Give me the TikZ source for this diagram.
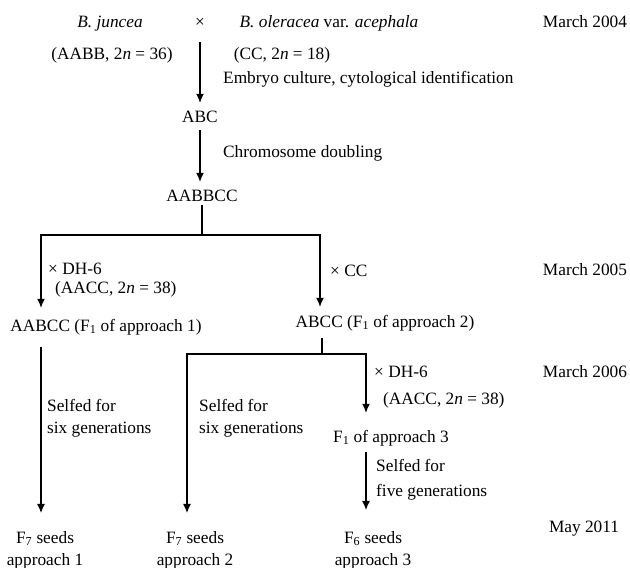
\documentclass[tikz,border=0pt]{standalone}
\usepackage{fontspec}
\setmainfont{Liberation Serif}
\usetikzlibrary{arrows.meta}

\begin{document}
\begin{tikzpicture}[x=1pt,y=-1pt,font=\fontsize{17.3}{22}\selectfont,
	lbl/.style={inner sep=0pt, text height=12pt, text depth=4pt},
	note/.style={lbl, anchor=west},
	block/.style={inner sep=0pt, align=#1},
	ln/.style={line width=1.2pt},
	arr/.style={ln, -{Latex[length=9pt,width=8pt]}}]
\useasboundingbox (0,0) rectangle (630,568);
% the cross
\node[lbl] (juncea) at (110,23) {\textit{B. juncea}};
\node[lbl] (cross) at (200,23) {×};
\node[lbl] (oleracea) at (329,23) {\textit{B. oleracea} var. \textit{acephala}};
\node[lbl] (juncgen) at (112,55) {(AABB, 2\textit{n} = 36)};
\node[lbl] (olegen) at (282,55) {(CC, 2\textit{n} = 18)};
\node[note] (embryo) at (223,79) {Embryo culture, cytological identification};
\node[lbl] (abc) at (200,118) {ABC};
\node[note] (doubling) at (223,153) {Chromosome doubling};
\node[lbl] (aabbcc) at (202,197) {AABBCC};
% first crosses
\node[note] (dhA) at (48,270) {× DH-6};
\node[note] (aaccA) at (55,289) {(AACC, 2\textit{n} = 38)};
\node[lbl] (aabcc) at (106,327) {AABCC (F\textsubscript{1} of approach 1)};
\node[note] (xcc) at (330,272) {× CC};
\node[lbl] (abcc) at (385,323) {ABCC (F\textsubscript{1} of approach 2)};
\node[note] (dhB) at (374,373) {× DH-6};
\node[note] (aaccB) at (383,400) {(AACC, 2\textit{n} = 38)};
\node[lbl] (fonec) at (391,438) {F\textsubscript{1} of approach 3};
% selfing
\node[block=left, anchor=west] (selfA) at (47,418) {Selfed for\\six generations};
\node[block=left, anchor=west] (selfB) at (199,418) {Selfed for\\six generations};
\node[block=left, anchor=west] (selfC) at (376,480) {Selfed for\\[3pt]five generations};
\node[block=center] (seedsA) at (45,550) {F\textsubscript{7} seeds\\approach 1};
\node[block=center] (seedsB) at (195,550) {F\textsubscript{7} seeds\\approach 2};
\node[block=center] (seedsC) at (373,550) {F\textsubscript{6} seeds\\approach 3};
% dates
\node[lbl] (mar04) at (585,23) {March 2004};
\node[lbl] (mar05) at (585,271) {March 2005};
\node[lbl] (mar06) at (585,373) {March 2006};
\node[lbl] (may11) at (584,528) {May 2011};

\coordinate (split1) at (202,235);
\coordinate (l1) at (41,235);
\coordinate (r1) at (320,235);
\coordinate (split2) at (322,354);
\coordinate (l2) at (187,354);
\coordinate (r2) at (366,354);

\path[arr]
(cross) edge[shorten <=11pt, shorten >=7pt] (abc)
(abc) edge[shorten <=4pt, shorten >=7pt] (abc |- aabbcc.north)
(l1 |- aabcc.south) edge[shorten <=12pt, shorten >=18pt] (l1 |- seedsA.north)
(r2 |- fonec.south) edge[shorten <=6pt, shorten >=21pt] (r2 |- seedsC.north)
;
\draw[ln] (aabbcc.south) -- (split1);
\draw[arr, shorten >=11pt] (split1) -| (l1 |- aabcc.north);
\draw[arr, shorten >=8pt] (split1) -| (r1 |- abcc.north);
\draw[ln, shorten <=7pt] (abcc.south -| split2) -- (split2);
\draw[arr, shorten >=18pt] (split2) -| (l2 |- seedsB.north);
\draw[arr, shorten >=17pt] (split2) -| (r2 |- fonec.north);
\end{tikzpicture}
\end{document}
